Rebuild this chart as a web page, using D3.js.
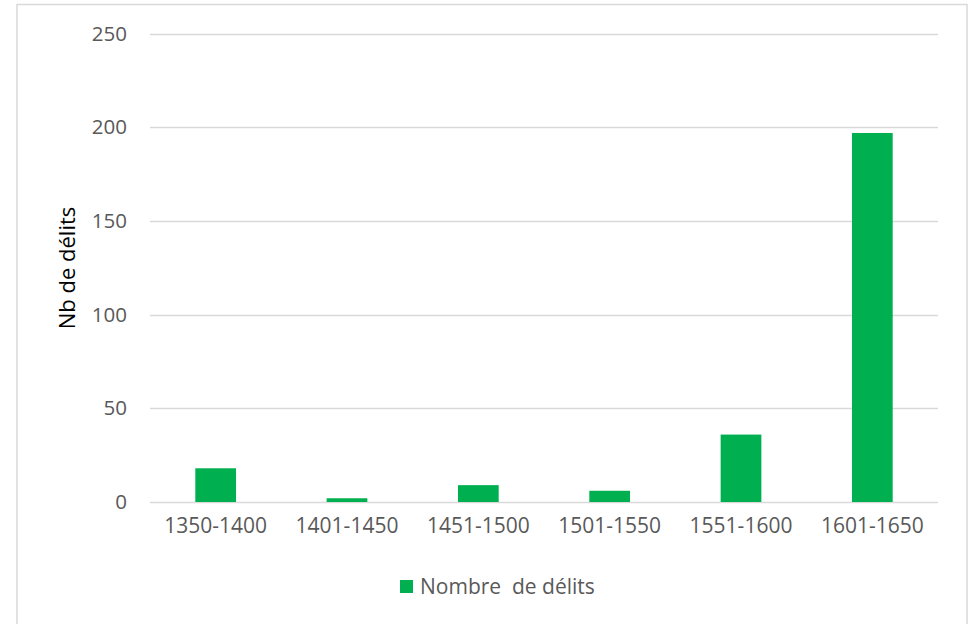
<!DOCTYPE html>
<html>
<head>
<meta charset="utf-8">
<script src="https://cdn.jsdelivr.net/npm/d3@7"></script>
<style>
  html, body { margin: 0; padding: 0; background: #fff; }
  svg { display: block; }
</style>
</head>
<body>
<svg id="chart" width="979" height="624"></svg>
<script>
const categories = ["1350-1400", "1401-1450", "1451-1500", "1501-1550", "1551-1600", "1601-1650"];
const values = [18, 2, 9, 6, 36, 197];
const yTicks = [0, 50, 100, 150, 200, 250];
const seriesName = "Nombre  de délits";
const yTitle = "Nb de délits";

const svg = d3.select("#chart");
const font = "'Open Sans', sans-serif";
const textColor = "#595959";
const barColor = "#00b050";

// outer border
svg.append("rect")
  .attr("x", 17).attr("y", 4.5)
  .attr("width", 950).attr("height", 640)
  .attr("fill", "#fff")
  .attr("stroke", "#d9d9d9").attr("stroke-width", 1.5);

const plot = { left: 150, right: 938, top: 33.7, bottom: 502 };

const x = d3.scaleBand()
  .domain(categories)
  .range([plot.left, plot.right])
  .paddingInner(0.69)
  .paddingOuter(0.345);

const y = d3.scaleLinear()
  .domain([0, 250])
  .range([plot.bottom, plot.top]);

// gridlines
svg.append("g")
  .selectAll("line")
  .data(yTicks)
  .join("line")
  .attr("x1", plot.left).attr("x2", plot.right)
  .attr("y1", d => Math.round(y(d)) + 0.5)
  .attr("y2", d => Math.round(y(d)) + 0.5)
  .attr("stroke", "#d9d9d9").attr("stroke-width", 1.5);

// y axis labels
const yAxis = d3.axisLeft(y).tickValues(yTicks).tickSize(0).tickPadding(23);
const gy = svg.append("g").attr("transform", `translate(${plot.left},0)`).call(yAxis);
gy.select(".domain").remove();
gy.selectAll("text")
  .attr("font-family", font).attr("font-size", 20.5)
  .attr("fill", textColor);

// bars
svg.append("g")
  .selectAll("rect")
  .data(values)
  .join("rect")
  .attr("x", (d, i) => x(categories[i]))
  .attr("width", x.bandwidth())
  .attr("y", d => y(d))
  .attr("height", d => y(0) - y(d))
  .attr("fill", barColor);

// x axis labels
const xAxis = d3.axisBottom(x).tickSize(0).tickPadding(16);
const gx = svg.append("g").attr("transform", `translate(0,${plot.bottom})`).call(xAxis);
gx.select(".domain").remove();
gx.selectAll("text")
  .attr("font-family", font).attr("font-size", 21)
  .attr("fill", textColor);

// y title
svg.append("text")
  .attr("transform", `translate(75,268) rotate(-90)`)
  .attr("text-anchor", "middle")
  .attr("font-family", font).attr("font-size", 22)
  .attr("fill", "#000")
  .text(yTitle);

// legend
const lg = svg.append("g");
lg.append("rect")
  .attr("x", 400).attr("y", 580)
  .attr("width", 13).attr("height", 13)
  .attr("fill", barColor);
lg.append("text")
  .attr("x", 420).attr("y", 594)
  .attr("font-family", font).attr("font-size", 21)
  .attr("fill", textColor)
  .style("white-space", "pre")
  .text(seriesName);
</script>
</body>
</html>
